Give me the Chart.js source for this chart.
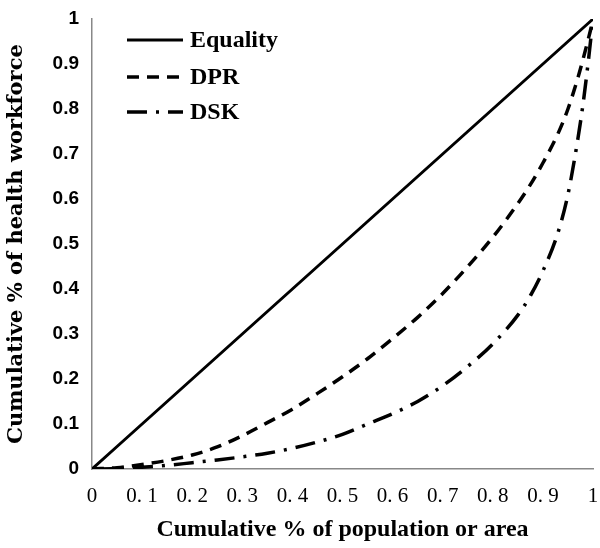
<!DOCTYPE html>
<html>
<head>
<meta charset="utf-8">
<script src="https://cdn.jsdelivr.net/npm/chart.js@4/dist/chart.umd.min.js"></script>
<style>
  html, body { margin: 0; padding: 0; background: #fff; }
  #wrap { width: 600px; height: 548px; }
</style>
</head>
<body>
<div id="wrap"><canvas id="myChart"></canvas></div>
<script>
// cumulative share of population / area
const xs = [0, 0.05, 0.1, 0.15, 0.2, 0.25, 0.3, 0.35, 0.4, 0.45, 0.5, 0.55, 0.6, 0.65, 0.7, 0.75, 0.8, 0.85, 0.875, 0.9, 0.93, 0.95, 0.97, 0.98, 0.99, 0.995, 1];
const equality = [0, 0.05, 0.1, 0.15, 0.2, 0.25, 0.3, 0.35, 0.4, 0.45, 0.5, 0.55, 0.6, 0.65, 0.7, 0.75, 0.8, 0.85, 0.875, 0.9, 0.93, 0.95, 0.97, 0.98, 0.99, 0.995, 1];
const dpr = [0, 0.003, 0.01, 0.019, 0.031, 0.049, 0.074, 0.103, 0.133, 0.168, 0.205, 0.245, 0.29, 0.337, 0.39, 0.45, 0.515, 0.59, 0.632, 0.68, 0.745, 0.8, 0.87, 0.91, 0.953, 0.975, 1];
const dsk = [0, 0.001, 0.004, 0.008, 0.014, 0.02, 0.027, 0.035, 0.046, 0.06, 0.077, 0.1, 0.123, 0.15, 0.185, 0.228, 0.278, 0.342, 0.385, 0.44, 0.525, 0.61, 0.735, 0.81, 0.9, 0.95, 1];
const seriesNames = ['Equality', 'DPR', 'DSK'];
const xTicks = [0, 0.1, 0.2, 0.3, 0.4, 0.5, 0.6, 0.7, 0.8, 0.9, 1];
const yTicks = [0, 0.1, 0.2, 0.3, 0.4, 0.5, 0.6, 0.7, 0.8, 0.9, 1];

const pts = arr => xs.map((x, i) => ({ x: x, y: arr[i] }));

// legend drawn inside the plot, top-left
const innerLegend = {
  id: 'innerLegend',
  afterDraw(chart) {
    const c = chart.ctx;
    const rows = [40, 77, 112];
    chart.data.datasets.forEach((ds, i) => {
      c.save();
      c.strokeStyle = '#000';
      c.lineWidth = ds.borderWidth;
      c.setLineDash(ds.borderDash || []);
      c.beginPath();
      c.moveTo(127, rows[i]);
      c.lineTo(183, rows[i]);
      c.stroke();
      c.setLineDash([]);
      c.fillStyle = '#000';
      c.font = 'bold 24px "Liberation Serif"';
      c.textBaseline = 'middle';
      c.fillText(ds.label, 190, rows[i] + 1);
      c.restore();
    });
  }
};

const ctx = document.getElementById('myChart');

const chart = new Chart(ctx, {
  type: 'scatter',
  data: {
    datasets: [{
      label: seriesNames[0],
      data: pts(equality),
      showLine: true,
      borderColor: '#000',
      borderWidth: 3,
      pointRadius: 0
    }, {
      label: seriesNames[1],
      data: pts(dpr),
      showLine: true,
      borderColor: '#000',
      borderWidth: 3.5,
      borderDash: [12, 8],
      cubicInterpolationMode: 'monotone',
      pointRadius: 0
    }, {
      label: seriesNames[2],
      data: pts(dsk),
      showLine: true,
      borderColor: '#000',
      borderWidth: 3.5,
      borderDash: [20, 9, 3, 9],
      cubicInterpolationMode: 'monotone',
      pointRadius: 0
    }]
  },
  options: {
    responsive: true,
    maintainAspectRatio: false,
    animation: false,
    layout: { padding: { top: 19, right: 7, left: 0, bottom: 0 } },
    plugins: {
      legend: { display: false },
      tooltip: { enabled: false }
    },
    scales: {
      x: {
        type: 'linear',
        min: 0,
        max: 1,
        afterBuildTicks: s => { s.ticks = xTicks.map(v => ({ value: v })); },
        afterFit: s => { s.height = 79; s.paddingRight = 0; s.paddingLeft = 0; },
        grid: { display: false, drawTicks: true, tickLength: 7, color: '#888' },
        border: { color: '#888', width: 1.5 },
        ticks: {
          color: '#000',
          padding: 8,
          maxRotation: 0,
          font: { family: 'Liberation Serif', size: 21 },
          callback: v => (v === 0 || v === 1) ? String(v) : String(v.toFixed(1)).replace('.', '. ')
        },
        title: {
          display: true,
          text: 'Cumulative % of population or area',
          color: '#000',
          padding: { top: 4 },
          font: { family: 'Liberation Serif', size: 24, weight: 'bold' }
        }
      },
      y: {
        type: 'linear',
        min: 0,
        max: 1,
        afterBuildTicks: s => { s.ticks = yTicks.map(v => ({ value: v })); },
        afterFit: s => { s.width = 92; },
        grid: { display: false, drawTicks: true, tickLength: 7, color: '#888' },
        border: { color: '#888', width: 1.5 },
        ticks: {
          color: '#000',
          padding: 6,
          font: { family: 'Liberation Sans', size: 19, weight: 'bold' },
          callback: v => String(v)
        },
        title: {
          display: true,
          text: 'Cumulative % of health workforce',
          color: '#000',
          padding: { top: 4, bottom: 0 },
          font: { family: 'DejaVu Serif', size: 21, weight: 'bold' }
        }
      }
    }
  },
  plugins: [innerLegend]
});
</script>
</body>
</html>
